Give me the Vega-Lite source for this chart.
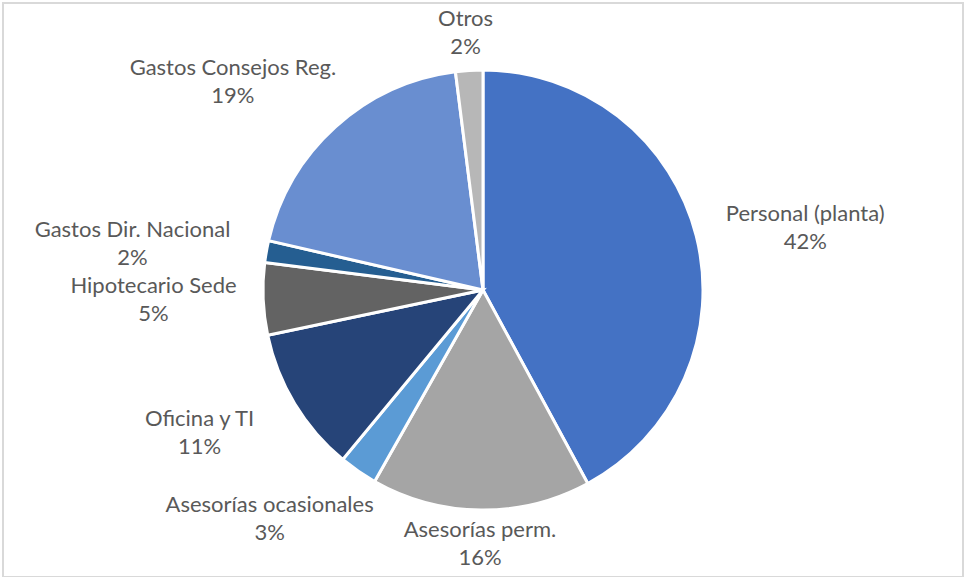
{
  "$schema": "https://vega.github.io/schema/vega-lite/v6.json",
  "width": 964,
  "height": 577,
  "autosize": {"type": "fit", "contains": "padding"},
  "padding": {"left": 3, "top": 3, "right": 1, "bottom": 0},
  "background": "white",
  "view": {"stroke": "#D9D9D9", "strokeWidth": 2, "fill": "white"},
  "data": {
    "values": [
      {"order": 1, "category": "Personal (planta)", "value": 42.1},
      {"order": 2, "category": "Asesorías perm.", "value": 16.1},
      {"order": 3, "category": "Asesorías ocasionales", "value": 2.8},
      {"order": 4, "category": "Oficina y TI", "value": 10.7},
      {"order": 5, "category": "Hipotecario Sede", "value": 5.3},
      {"order": 6, "category": "Gastos Dir. Nacional", "value": 1.6},
      {"order": 7, "category": "Gastos Consejos Reg.", "value": 19.4},
      {"order": 8, "category": "Otros", "value": 2.0}
    ]
  },
  "transform": [
    {"calculate": "[datum.category, format(datum.value, '.0f') + '%']", "as": "label"}
  ],
  "encoding": {
    "theta": {"field": "value", "type": "quantitative", "stack": true},
    "order": {"field": "order", "type": "quantitative"}
  },
  "layer": [
    {
      "mark": {"type": "arc", "outerRadius": 220, "stroke": "white", "strokeWidth": 3},
      "encoding": {
        "color": {
          "field": "category",
          "type": "nominal",
          "legend": null,
          "scale": {
            "domain": ["Personal (planta)", "Asesorías perm.", "Asesorías ocasionales", "Oficina y TI", "Hipotecario Sede", "Gastos Dir. Nacional", "Gastos Consejos Reg.", "Otros"],
            "range": ["#4472C4", "#A5A5A5", "#5B9BD5", "#264478", "#636363", "#255E91", "#698ED0", "#B7B7B7"]
          }
        }
      }
    },
    {
      "mark": {
        "type": "text",
        "font": "Lato",
        "fontSize": 22,
        "color": "#595959",
        "align": "center",
        "baseline": "middle",
        "lineHeight": 28,
        "radius": {"expr": "232 + (sin((datum.value_start + datum.value_end) / 100 * PI) < 0 ? 26 * abs(sin((datum.value_start + datum.value_end) / 50 * PI)) : 0)"},
        "dx": {"expr": "(4.85 * length(datum.category) + 18) * sin((datum.value_start + datum.value_end) / 100 * PI)"},
        "dy": {"expr": "-14 - 22 * cos((datum.value_start + datum.value_end) / 100 * PI)"}
      },
      "encoding": {
        "text": {"field": "label"}
      }
    }
  ]
}
